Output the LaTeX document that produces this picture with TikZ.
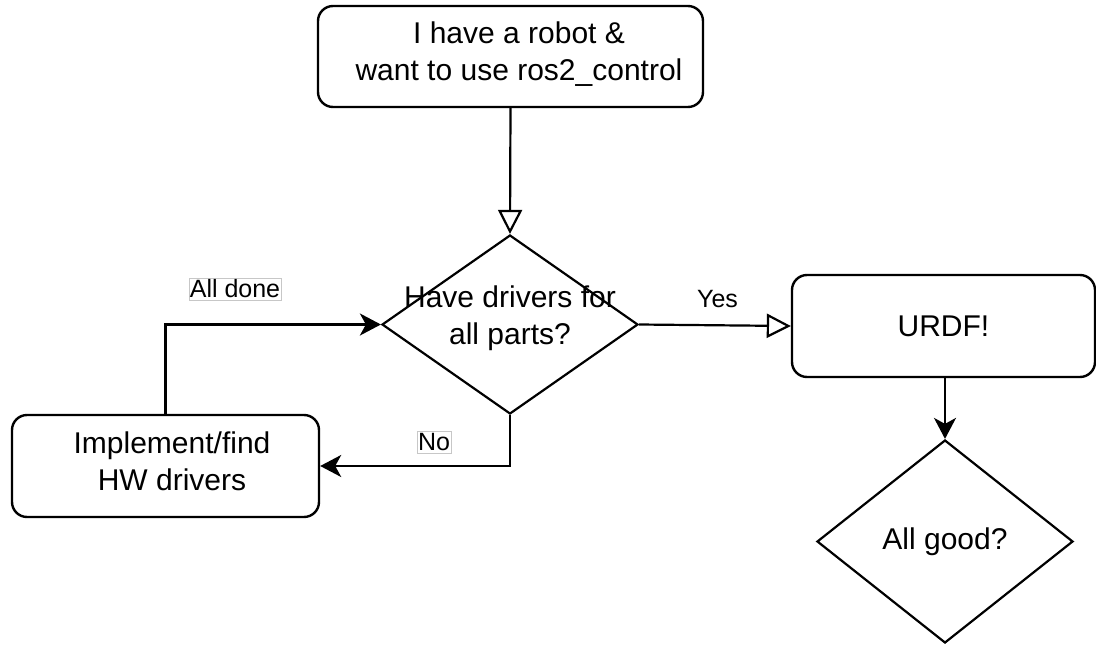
\documentclass[tikz,border=0pt]{standalone}
\usepackage{fontspec}
\setmainfont{Liberation Sans}
\usetikzlibrary{shapes.geometric,arrows.meta}

\newcommand\mainsize{\fontsize{30}{37}\selectfont}
\newcommand\labelsize{\fontsize{25}{28}\selectfont}

\tikzset{
  stepbox/.style={draw, line width=2.4pt, rounded corners=15pt, fill=white,
    align=center, font=\mainsize, inner sep=0pt},
  decision/.style={draw, shape=diamond, line width=2.2pt, inner sep=0pt, fill=white},
  txt/.style={align=center, font=\mainsize, inner sep=0pt},
  edgelabel/.style={draw=black!22, line width=0.6pt, fill=white, font=\labelsize,
    inner xsep=1pt, inner ysep=2pt},
  plainlabel/.style={font=\labelsize, inner sep=1pt},
  filledarrow/.style={line width=2.3pt, -{Stealth[length=21pt, width=22pt, inset=6pt]}},
  hollowarrow/.style={line width=2.2pt, -{Triangle[length=24pt, width=24pt, fill=white, line width=2.2pt]}},
}

\begin{document}
\begin{tikzpicture}[x=1pt, y=-1pt]
  \useasboundingbox (0,0) rectangle (1096,648);

  % process boxes
  \node[stepbox, minimum width=385pt, minimum height=101pt] (start) at (510.5,56.5) {};
  \node[txt] (starttext) at (519,54.5) {I have a robot \&\\ want to use ros2\_control};
  \node[stepbox, minimum width=303pt, minimum height=102pt] (urdf) at (943.5,326) {URDF!};
  \node[stepbox, minimum width=307pt, minimum height=102pt] (impl) at (165.5,466) {};
  \node[txt] (impltext) at (172,461.5) {Implement/find\\HW drivers};

  % decisions
  \node[decision, minimum width=256pt, minimum height=179pt] (drivers) at (510,324.5) {};
  \node[txt] (driverstext) at (510,318) {Have drivers for\\all parts?};
  \node[decision, minimum width=256pt, minimum height=203pt] (good) at (945,541.5) {};
  \node[txt] (goodtext) at (945,541.5) {All good?};

  % connectors
  \draw[hollowarrow] (start.south) -- (drivers.north);
  \draw[hollowarrow] (drivers.east) -- (urdf.west);
  \draw[filledarrow] (urdf.south -| good.north) -- (good.north);
  \draw[filledarrow] (drivers.south) |- (impl.east);
  \draw[filledarrow] (impl.north) |- (drivers.west);

  % connector labels
  \node[plainlabel] (yes) at (717.5,299) {Yes};
  \node[edgelabel] (no) at (434,442.5) {No};
  \node[edgelabel] (done) at (235,289) {All done};
\end{tikzpicture}
\end{document}
